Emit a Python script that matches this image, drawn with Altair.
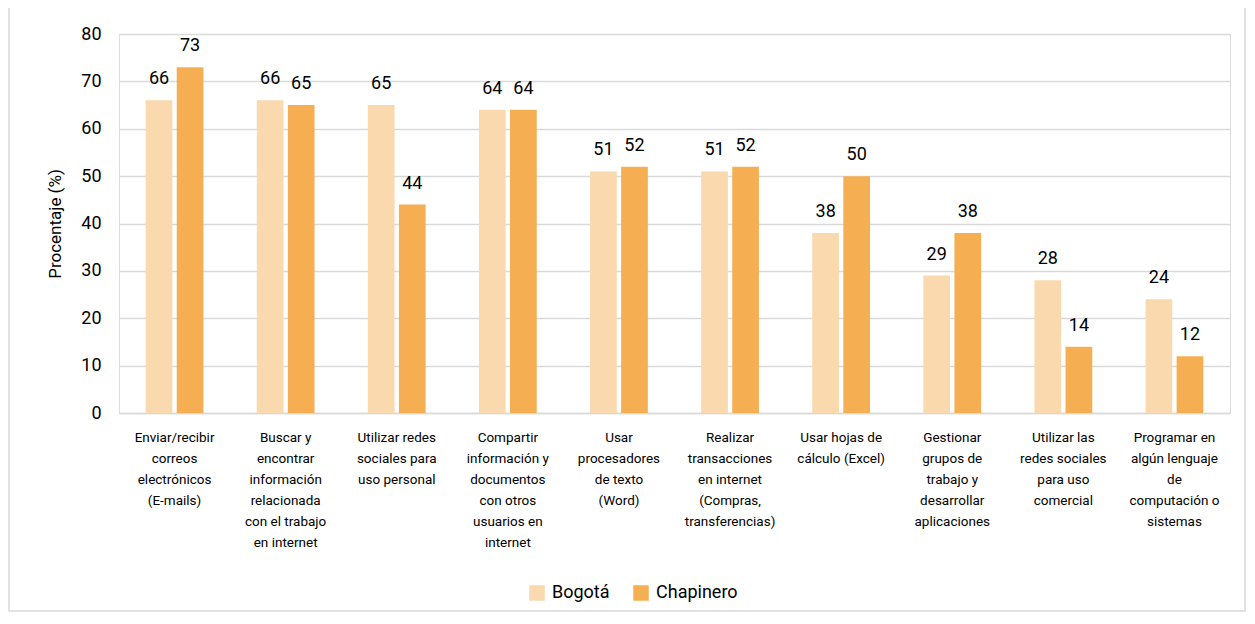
import altair as alt
import pandas as pd

categories = [
    "Enviar/recibir\ncorreos\nelectrónicos\n(E-mails)",
    "Buscar y\nencontrar\ninformación\nrelacionada\ncon el trabajo\nen internet",
    "Utilizar redes\nsociales para\nuso personal",
    "Compartir\ninformación y\ndocumentos\ncon otros\nusuarios en\ninternet",
    "Usar\nprocesadores\nde texto\n(Word)",
    "Realizar\ntransacciones\nen internet\n(Compras,\ntransferencias)",
    "Usar hojas de\ncálculo (Excel)",
    "Gestionar\ngrupos de\ntrabajo y\ndesarrollar\naplicaciones",
    "Utilizar las\nredes sociales\npara uso\ncomercial",
    "Programar en\nalgún lenguaje\nde\ncomputación o\nsistemas",
]
bogota = [66, 66, 65, 64, 51, 51, 38, 29, 28, 24]
chapinero = [73, 65, 44, 64, 52, 52, 50, 38, 14, 12]
series = ["Bogotá", "Chapinero"]
colors = ["#FAD9AE", "#F5AF52"]

rows = []
for i, c in enumerate(categories):
    rows.append({"cat": c, "serie": "Bogotá", "val": bogota[i]})
    rows.append({"cat": c, "serie": "Chapinero", "val": chapinero[i]})
df = pd.DataFrame(rows)

FONT = "Roboto"

x = alt.X("cat:N", sort=categories, title=None,
          scale=alt.Scale(paddingInner=0.48, paddingOuter=0.24),
          axis=alt.Axis(labelExpr="split(datum.label, '\\n')", labelAngle=0,
                        labelFontSize=13.5, labelLineHeight=21, labelPadding=17,
                        labelColor="#000000", labelFont=FONT, ticks=False,
                        domainColor="#D9D9D9", domainWidth=1.5, labelLimit=200,
                        labelBaseline="top"))
xo = alt.XOffset("serie:N", sort=series, scale=alt.Scale(paddingInner=0.14))
y = alt.Y("val:Q", title="Procentaje (%)",
          scale=alt.Scale(domain=[0, 80]),
          axis=alt.Axis(values=list(range(0, 81, 10)), grid=True, gridColor="#D9D9D9",
                        gridWidth=1.5, domain=False, ticks=False, labelFontSize=18,
                        labelColor="#000000", labelFont=FONT, labelPadding=18,
                        titleFontSize=17, titleFontWeight="normal", titleColor="#000000",
                        titleFont=FONT, titlePadding=16))
color = alt.Color("serie:N", sort=series,
                  scale=alt.Scale(domain=series, range=colors),
                  legend=alt.Legend(title=None, orient="none", legendX=409, legendY=550,
                                    direction="horizontal", symbolType="square",
                                    symbolSize=240, symbolStrokeWidth=0,
                                    labelFontSize=18, labelFont=FONT, labelColor="#000000",
                                    symbolOffset=0, labelOffset=6))

bars = alt.Chart(df).mark_bar(stroke=None).encode(x=x, xOffset=xo, y=y, color=color)
labels = alt.Chart(df).mark_text(dy=-12, baseline="bottom", fontSize=18, font=FONT,
                                 color="#000000").encode(
    x=alt.X("cat:N", sort=categories), xOffset=alt.XOffset("serie:N", sort=series),
    y="val:Q", text="val:Q")
frame = alt.Chart(pd.DataFrame({"a": [0]})).mark_rect(
    fill=None, stroke="#D9D9D9", strokeWidth=1.5).encode(
    x=alt.value(-110), x2=alt.value(1126), y=alt.value(-27), y2=alt.value(577))

chart = alt.layer(frame, bars, labels).properties(
    width=1111, height=379,
    padding={"left": 111, "top": 26, "right": 17, "bottom": 200},
    autosize=alt.AutoSizeParams(type="none"),
).configure_view(stroke=None).configure(background="#FFFFFF").configure_legend(columnPadding=22)

chart.save("out.html", embed_options={"renderer": "svg", "actions": False})
